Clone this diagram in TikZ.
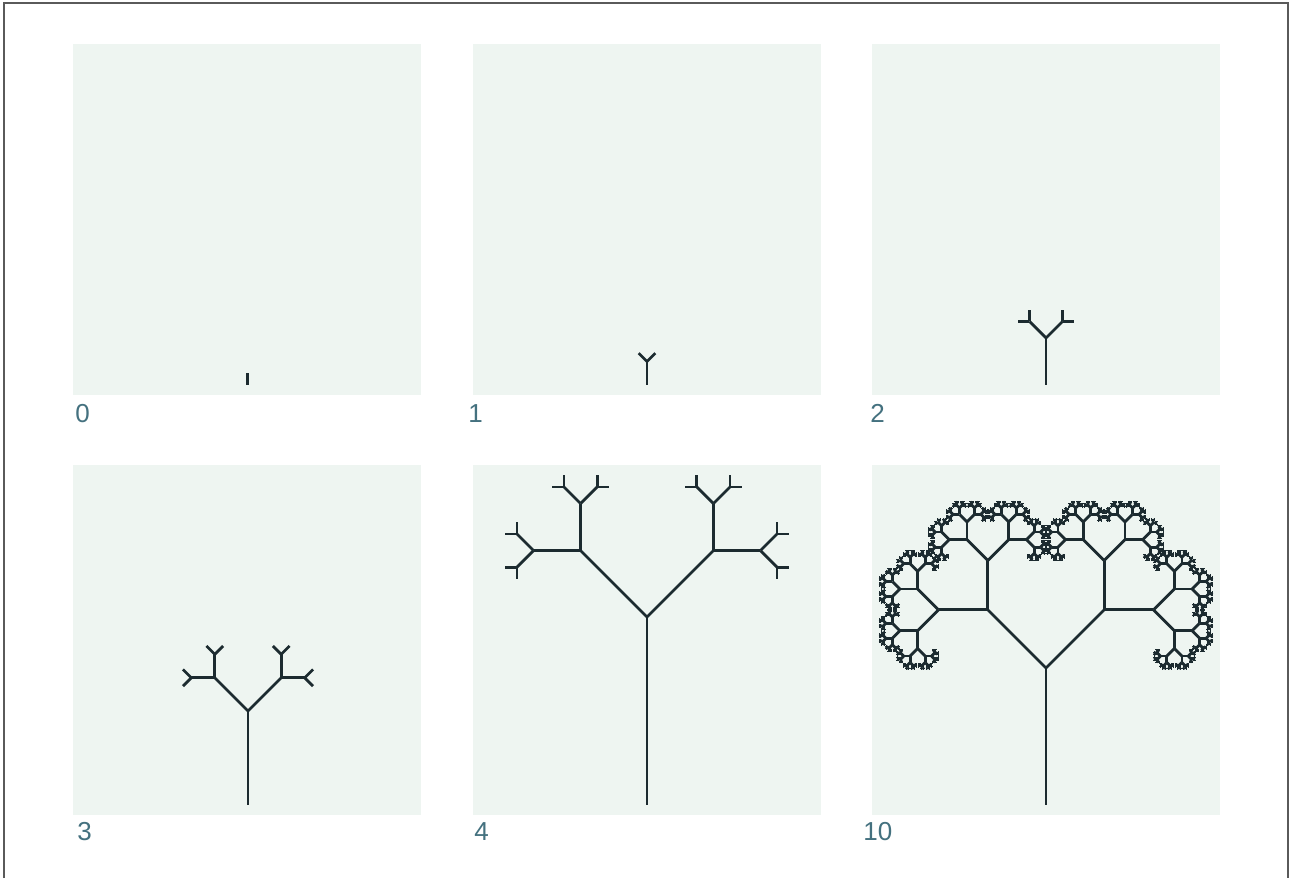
\documentclass[tikz,border=0pt]{standalone}
\usepackage{fontspec}
\setmainfont{Liberation Sans}

\definecolor{panelbg}{HTML}{EEF5F1}
\definecolor{labelgray}{HTML}{44717F}
\definecolor{branchcol}{HTML}{1C2B30}
\definecolor{framegray}{HTML}{5A5A5A}

\tikzset{
  panel/.style={fill=panelbg},
  branch/.style={draw=branchcol,line width=1.4pt},
  steplabel/.style={anchor=base west,inner sep=0pt,text=labelgray,font=\fontsize{13}{15}\selectfont}
}

% #1 depth, #2 length ratio of the two child branches
\newcommand\treebranch[2]{%
  \draw[branch] (0,0) -- (0,1);
  \ifnum#1>0
    \begin{scope}[shift={(0,1)},rotate=45,scale=#2]\treebranch{\numexpr#1-1\relax}{#2}\end{scope}
    \begin{scope}[shift={(0,1)},rotate=-45,scale=#2]\treebranch{\numexpr#1-1\relax}{#2}\end{scope}
  \fi}

\begin{document}
\begin{tikzpicture}[x=0.5pt,y=0.5pt]
            \useasboundingbox (0,0) rectangle (1290,878);
            \fill[white] (0,0) rectangle (1290,878);
            \draw[framegray,line width=1pt] (4,0) -- (4,875) -- (1288,875) -- (1288,0);

            \foreach \col in {0,1,2} {
              \fill[panel] (73+399.5*\col,483) rectangle ++(348,351);
              \fill[panel] (73+399.5*\col,63) rectangle ++(348,350);
            }

            \coordinate (root0) at (247.5,493);
            \coordinate (root1) at (647,493);
            \coordinate (root2) at (1046,493);
            \coordinate (root3) at (248,73);
            \coordinate (root4) at (647,73);
            \coordinate (root10) at (1046,73);

            \begin{scope}[shift={(root0)},scale=11.75]\treebranch{0}{0.5}\end{scope}
            \begin{scope}[shift={(root1)},scale=23.5]\treebranch{1}{0.5}\end{scope}
            \begin{scope}[shift={(root2)},scale=47]\treebranch{2}{0.5}\end{scope}
            \begin{scope}[shift={(root3)},scale=94]\treebranch{3}{0.5}\end{scope}
            \begin{scope}[shift={(root4)},scale=188]\treebranch{4}{0.5}\end{scope}
            \begin{scope}[shift={(root10)},scale=137]\treebranch{10}{0.6}\end{scope}

            \node[steplabel] (lab0) at (75,455) {0};
            \node[steplabel] (lab1) at (468,455) {1};
            \node[steplabel] (lab2) at (870,455) {2};
            \node[steplabel] (lab3) at (77,38) {3};
            \node[steplabel] (lab4) at (474,38) {4};
            \node[steplabel] (lab10) at (863,38) {10};
        \end{tikzpicture}
\end{document}
